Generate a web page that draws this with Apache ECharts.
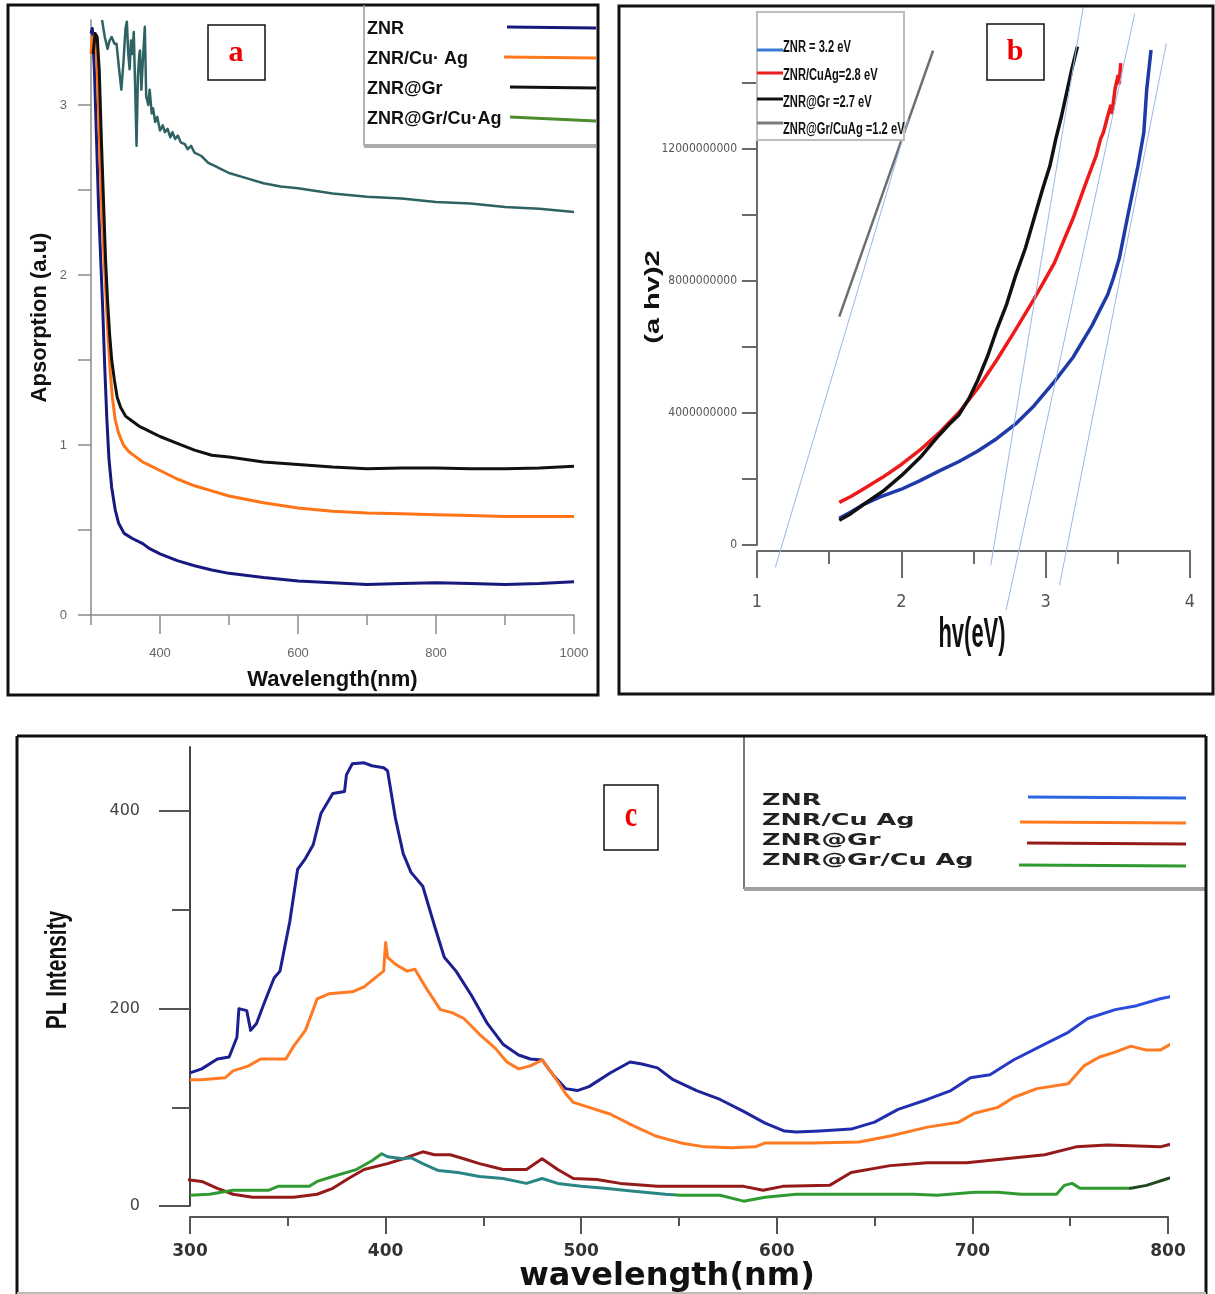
<!DOCTYPE html>
<html>
<head>
<meta charset="utf-8">
<title>ZNR absorption, Tauc plot and PL spectra</title>
<script src="https://cdn.jsdelivr.net/npm/echarts@6/dist/echarts.min.js"></script>
<style>
  html, body { margin: 0; padding: 0; background: #fff; }
  #main { width: 1215px; height: 1294px; }
</style>
</head>
<body>
<div id="main"></div>
<script>
var chartDom = document.getElementById('main');
var myChart = echarts.init(chartDom);

// ---- panel a : absorption ----
var absNames = ['ZNR', 'ZNR/Cu\u00b7 Ag', 'ZNR@Gr', 'ZNR@Gr/Cu\u00b7Ag'];
var absZnr = [[300,3.42],[302,3.45],[305,3.2],[308,2.8],[311,2.4],[314,2.1],[317,1.8],[320,1.45],[323,1.15],[326,0.92],[330,0.75],[335,0.62],[340,0.54],[348,0.48],[360,0.45],[375,0.42],[385,0.39],[400,0.36],[425,0.32],[450,0.29],[475,0.265],[500,0.245],[550,0.22],[600,0.2],[650,0.19],[700,0.18],[750,0.185],[800,0.19],[850,0.185],[900,0.18],[950,0.185],[1000,0.195]];
var absZnrCuAg = [[300,3.3],[302,3.4],[304,3.35],[306,3.42],[308,3.3],[310,3.1],[313,2.7],[316,2.35],[319,2.1],[322,1.85],[325,1.62],[328,1.42],[331,1.28],[335,1.15],[340,1.07],[347,1.0],[355,0.96],[365,0.93],[375,0.9],[385,0.88],[400,0.85],[425,0.8],[450,0.76],[475,0.73],[500,0.7],[550,0.66],[600,0.63],[650,0.61],[700,0.6],[750,0.595],[800,0.59],[850,0.585],[900,0.58],[950,0.58],[1000,0.58]];
var absZnrGr = [[303,3.3],[306,3.42],[309,3.4],[312,3.2],[315,2.8],[318,2.45],[321,2.1],[324,1.85],[327,1.65],[330,1.5],[334,1.38],[338,1.28],[343,1.22],[350,1.17],[360,1.14],[370,1.11],[380,1.09],[390,1.07],[400,1.05],[425,1.01],[450,0.97],[475,0.94],[500,0.93],[550,0.9],[600,0.885],[650,0.87],[700,0.86],[750,0.865],[800,0.865],[850,0.86],[900,0.86],[950,0.865],[1000,0.875]];
var absZnrGrCuAg = [[316,3.5],[320,3.4],[324,3.33],[327,3.38],[330,3.4],[334,3.36],[337,3.36],[341,3.2],[344,3.09],[347,3.25],[350,3.45],[352,3.49],[354,3.3],[356,3.21],[358,3.38],[360,3.3],[362,3.43],[364,3.1],[366,2.76],[368,3.17],[370,3.3],[371,3.32],[373,3.09],[375,3.25],[378,3.46],[380,3.05],[383,3.0],[385,3.09],[388,2.95],[390,2.98],[393,2.9],[396,2.93],[400,2.85],[404,2.88],[407,2.84],[411,2.86],[415,2.81],[418,2.84],[422,2.8],[426,2.82],[430,2.78],[436,2.77],[440,2.74],[445,2.76],[450,2.72],[460,2.7],[470,2.66],[480,2.64],[490,2.62],[500,2.6],[525,2.57],[550,2.54],[575,2.52],[600,2.51],[650,2.48],[700,2.46],[750,2.45],[800,2.43],[850,2.42],[900,2.4],[950,2.39],[1000,2.37]];
var absXTicks = [300,400,500,600,700,800,900,1000];
var absXLabels = [400,600,800,1000];
var absYTicks = [0,0.5,1,1.5,2,2.5,3];
var absYLabels = [0,1,2,3];

// ---- panel b : Tauc plot ----
var tauNames = ['ZNR = 3.2 eV', 'ZNR/CuAg=2.8 eV', 'ZNR@Gr =2.7 eV', 'ZNR@Gr/CuAg =1.2 eV'];
var tauZnr = [[1.57,0.81e9],[1.65,1.0e9],[1.735,1.22e9],[1.85,1.45e9],[2.0,1.69e9],[2.13,1.95e9],[2.26,2.24e9],[2.4,2.53e9],[2.53,2.85e9],[2.66,3.22e9],[2.79,3.66e9],[2.92,4.22e9],[3.06,4.95e9],[3.19,5.69e9],[3.32,6.64e9],[3.43,7.59e9],[3.47,8.1e9],[3.51,8.68e9],[3.57,10.0e9],[3.64,11.5e9],[3.68,12.5e9],[3.7,13.8e9],[3.73,15.0e9]];
var tauZnrCuAg = [[1.57,1.29e9],[1.65,1.47e9],[1.735,1.69e9],[1.87,2.05e9],[2.0,2.44e9],[2.13,2.88e9],[2.26,3.39e9],[2.4,4.02e9],[2.53,4.75e9],[2.66,5.6e9],[2.79,6.51e9],[2.92,7.46e9],[3.06,8.54e9],[3.19,9.9e9],[3.29,11.1e9],[3.35,11.8e9],[3.38,12.3e9],[3.4,12.5e9],[3.43,13.0e9],[3.45,13.3e9],[3.46,13.1e9],[3.48,13.8e9],[3.5,14.2e9],[3.51,14.0e9],[3.52,14.6e9]];
var tauZnrGr = [[1.57,0.75e9],[1.65,0.95e9],[1.735,1.22e9],[1.87,1.62e9],[2.0,2.1e9],[2.13,2.65e9],[2.26,3.32e9],[2.33,3.65e9],[2.4,3.95e9],[2.47,4.45e9],[2.53,5.0e9],[2.6,5.75e9],[2.66,6.51e9],[2.73,7.3e9],[2.79,8.14e9],[2.86,9.0e9],[2.92,9.9e9],[2.98,10.8e9],[3.03,11.5e9],[3.07,12.3e9],[3.11,13.0e9],[3.15,13.8e9],[3.18,14.4e9],[3.22,15.1e9]];
var tauZnrGrCuAg = [[1.57,6.92e9],[2.22,14.98e9]];
var fitZnr = [[3.096,-1.22e9],[3.836,15.2e9]];
var fitZnrCuAg = [[2.726,-1.97e9],[3.617,16.1e9]];
var fitZnrGr = [[2.62,-0.61e9],[3.26,16.3e9]];
var fitZnrGrCuAg = [[1.127,-0.68e9],[2.05,12.9e9]];
var tauXTicks = [1,2,3,4];
var tauXMinor = [1.5,2.5,3.5];
var tauYTicks = [0,2e9,4e9,6e9,8e9,10e9,12e9,14e9];
var tauYLabels = [0,4e9,8e9,12e9];

// ---- panel c : PL ----
var plNames = ['ZNR', 'ZNR/Cu Ag', 'ZNR@Gr', 'ZNR@Gr/Cu Ag'];
var plZnr = [[300,135],[306,139],[314,149],[320,151],[324,171],[325,200],[329,198],[331,178],[334,185],[338,206],[343,231],[346,238],[351,288],[355,341],[359,352],[363,366],[367,398],[373,418],[379,420],[380,437],[383,448],[389,449],[393,446],[399,444],[401,441],[405,393],[409,357],[413,338],[419,324],[425,284],[430,252],[436,238],[444,213],[452,185],[460,164],[468,153],[474,149],[480,148],[486,132],[492,119],[498,117],[504,121],[515,135],[525,146],[531,144],[539,140],[547,128],[559,117],[571,108],[583,96],[594,84],[604,76],[610,75],[622,76],[638,78],[650,85],[662,98],[677,108],[689,117],[699,130],[709,133],[721,148],[737,164],[749,176],[759,190],[773,199],[784,203],[796,210],[808,215],[818,220]];
var plZnrCuAg = [[300,128],[306,128],[318,130],[322,137],[330,142],[336,149],[349,149],[353,162],[359,178],[363,199],[365,210],[371,215],[383,217],[389,222],[397,235],[399,238],[400,267],[401,252],[405,245],[411,238],[415,240],[421,220],[428,199],[434,196],[440,190],[448,174],[456,160],[462,146],[468,139],[474,142],[480,148],[486,132],[492,114],[496,105],[504,100],[515,93],[526,82],[538,71],[551,64],[563,60],[577,59],[589,60],[594,64],[618,64],[642,65],[658,71],[677,80],[693,85],[701,94],[713,100],[721,110],[733,119],[749,124],[757,142],[765,151],[773,156],[781,162],[789,158],[796,158],[804,167],[812,173],[818,173]];
var plZnrGr = [[294,28],[306,25],[314,18],[322,12],[332,9],[353,9],[365,12],[373,18],[381,28],[389,37],[401,43],[409,48],[419,55],[425,52],[433,52],[440,48],[448,43],[460,37],[472,37],[480,48],[488,37],[496,28],[508,27],[520,23],[539,20],[559,20],[583,20],[593,16],[603,20],[627,21],[638,34],[658,41],[677,44],[697,44],[717,48],[737,52],[753,60],[769,62],[796,60],[804,64],[816,66]];
var plZnrGrCuAg = [[300,11],[310,12],[322,16],[340,16],[345,20],[361,20],[365,25],[373,30],[385,37],[393,46],[398,53],[401,50],[409,48],[413,49],[419,43],[427,36],[437,34],[448,30],[460,28],[472,23],[480,28],[488,23],[500,20],[512,18],[527,15],[543,12],[551,11],[571,11],[583,5],[594,9],[610,12],[638,12],[670,12],[682,11],[701,14],[713,14],[725,12],[743,12],[747,21],[751,23],[755,18],[765,18],[781,18],[789,21],[800,28],[808,31],[818,31]];
var plXTicks = [300,400,500,600,700,800];
var plXMinor = [350,450,550,650,750];
var plYTicks = [0,200,400];
var plYMinor = [100,300];

var NARROW = "'Liberation Sans Narrow', 'DejaVu Sans Condensed', 'Liberation Sans', sans-serif";

function lineSeries(name, data, xi, yi, color, width) {
    var s = {
        name: name, type: 'line', data: data, xAxisIndex: xi, yAxisIndex: yi,
        showSymbol: false, symbol: 'none', clip: false, silent: true,
        lineStyle: { width: width, join: 'round' }
    };
    // colour left out when a visualMap paints the line
    if (color) s.lineStyle.color = color;
    return s;
}

function plainAxis(grid, min, max, position, extra) {
    var ax = {
        type: 'value', gridIndex: grid, min: min, max: max, position: position,
        splitLine: { show: false },
        axisLine: { onZero: false }
    };
    return Object.assign(ax, extra);
}

var series = [
    lineSeries(absNames[0], absZnr, 0, 0, '#17197c', 3),
    lineSeries(absNames[1], absZnrCuAg, 0, 0, '#ff7417', 3),
    lineSeries(absNames[2], absZnrGr, 0, 0, '#111111', 3),
    lineSeries(absNames[3], absZnrGrCuAg, 0, 0, '#2f6262', 2.5),

    lineSeries(tauNames[0], tauZnr, 2, 1, '#1d3aa8', 3.5),
    lineSeries(tauNames[1], tauZnrCuAg, 2, 1, '#ee1a1a', 3.5),
    lineSeries(tauNames[2], tauZnrGr, 2, 1, '#111111', 3.5),
    lineSeries(tauNames[3], tauZnrGrCuAg, 2, 1, '#6e6e6e', 2.5),
    lineSeries('fit 3.2', fitZnr, 2, 1, '#9ab7e6', 1),
    lineSeries('fit 2.8', fitZnrCuAg, 2, 1, '#9ab7e6', 1),
    lineSeries('fit 2.7', fitZnrGr, 2, 1, '#9ab7e6', 1),
    lineSeries('fit 1.2', fitZnrGrCuAg, 2, 1, '#9ab7e6', 1),

    lineSeries(plNames[0], plZnr, 4, 2, null, 3),
    lineSeries(plNames[1], plZnrCuAg, 4, 2, '#ff7a22', 3),
    lineSeries(plNames[2], plZnrGr, 4, 2, '#951b1b', 3),
    lineSeries(plNames[3], plZnrGrCuAg, 4, 2, null, 3)
];

// legends, frames and panel letters
var graphic = [];
function txt(x, y, s, font, fill, extra, align) {
    graphic.push(Object.assign({
        type: 'text', x: x, y: y, z: 60,
        style: { text: s, font: font, fill: fill, align: align || 'left', verticalAlign: 'middle' }
    }, extra || {}));
}
function seg(x1, y1, x2, y2, color, w) {
    graphic.push({ type: 'line', z: 60, shape: { x1: x1, y1: y1, x2: x2, y2: y2 }, style: { stroke: color, lineWidth: w } });
}
function box(x, y, w, h, stroke, lw, fill, z) {
    graphic.push({ type: 'rect', z: z || 55, shape: { x: x, y: y, width: w, height: h },
        style: { stroke: stroke, lineWidth: lw, fill: fill || 'transparent' } });
}

// panel a legend
seg(364, 5, 364, 146, '#9a9a9a', 1.5);
seg(364, 146, 596, 146, '#ababab', 4);
var absLegY = [29, 59, 89, 119];
var absLegX = [507, 504, 510, 510];
var absLegCol = ['#16197a', '#ff7a1c', '#111111', '#4c8c2c'];
absNames.forEach(function (n, i) {
    txt(367, absLegY[i], n, "bold 18px 'Liberation Sans', Arial, sans-serif", '#111');
    seg(absLegX[i], absLegY[i] - 2, 596, absLegY[i] - 1 + (i === 3 ? 3 : 0), absLegCol[i], 3);
});

// panel b legend
box(757, 12, 147, 128, '#bdbdbd', 2, '#fff', 50);
var tauLegY = [47, 75, 102, 129];
var tauLegLineY = [50, 73, 99, 123];
var tauLegCol = ['#3b7ad6', '#ee1c1c', '#111111', '#7a7a7a'];
tauNames.forEach(function (n, i) {
    seg(757, tauLegLineY[i], 783, tauLegLineY[i], tauLegCol[i], 3);
    txt(783, tauLegY[i], n, "bold 12px 'Liberation Sans', Arial, sans-serif", '#111', { scaleX: 0.93, scaleY: 1.45 });
});

// panel c legend
seg(744, 736, 744, 889, '#7a7a7a', 2);
seg(744, 889, 1205, 889, '#a0a0a0', 4);
var plLegY = [801, 821, 841, 861];
var plLegLineY = [797, 822, 843, 865];
var plLegX = [1028, 1020, 1027, 1019];
var plLegCol = ['#2a66e0', '#ff7a22', '#951b1b', '#2f9a2f'];
plNames.forEach(function (n, i) {
    txt(762, plLegY[i], n, "bold 15px 'DejaVu Sans', sans-serif", '#222', { scaleX: 1.7 });
    seg(plLegX[i], plLegLineY[i], 1186, plLegLineY[i] + 1, plLegCol[i], 3);
});

// axis titles drawn squeezed / stretched like the figure
txt(972, 635, 'hv(eV)', "bold 22px 'Liberation Sans', Arial, sans-serif", '#111', { scaleY: 1.9 }, 'center');
txt(653, 297, '(a hv)2', "bold 20px 'Liberation Sans', Arial, sans-serif", '#111', { rotation: Math.PI / 2, scaleX: 1.45 }, 'center');
txt(58, 970, 'PL Intensity', "bold 22px 'Liberation Sans', Arial, sans-serif", '#111', { rotation: Math.PI / 2, scaleX: 0.95, scaleY: 1.3 }, 'center');

// panel letters
box(208, 25, 57, 55, '#111', 1.5, '#fff', 56);
txt(236, 53, 'a', "bold 30px 'Liberation Serif', serif", '#ee0000', { z: 61 }, 'center');
box(987, 24, 57, 56, '#111', 1.5, '#fff', 56);
txt(1015, 52, 'b', "bold 30px 'Liberation Serif', serif", '#ee0000', { z: 61 }, 'center');
box(604, 785, 54, 65, '#111', 1.5, '#fff', 56);
txt(631, 817, 'c', "bold 28px 'Liberation Serif', serif", '#ee0000', { z: 61, scaleY: 1.3 }, 'center');

// panel frames
box(8, 5, 590, 690, '#111', 3);
box(619, 6, 594, 688, '#111', 3);
seg(17, 1294, 17, 736, '#111', 3);
seg(17, 736, 1206, 736, '#111', 3);
seg(1206, 736, 1206, 1294, '#111', 3);
seg(17, 1293, 1206, 1293, '#bbbbbb', 2);

var option = {
    animation: false,
    backgroundColor: '#fff',
    textStyle: { fontFamily: "'Liberation Sans', Arial, sans-serif" },
    grid: [
        { left: 91, top: 20, width: 483, height: 595 },
        { left: 757, top: 50, width: 433, height: 495 },
        { left: 190, top: 747, width: 978, height: 471 }
    ],
    xAxis: [
        plainAxis(0, 300, 1000, 'bottom', {
            axisLine: { onZero: false, lineStyle: { color: '#8a8a8a', width: 1.5 } },
            axisTick: { customValues: absXTicks, length: 10, lineStyle: { color: '#8a8a8a', width: 1.5 } },
            axisLabel: { customValues: absXLabels, color: '#666', fontSize: 13, margin: 32,
                formatter: function (v) { return String(v); } },
            name: 'Wavelength(nm)', nameLocation: 'middle', nameGap: 54,
            nameTextStyle: { fontWeight: 'bold', fontSize: 22, color: '#111' }
        }),
        plainAxis(0, 300, 1000, 'bottom', {
            axisLine: { show: false, onZero: false },
            axisTick: { customValues: absXLabels, length: 19, lineStyle: { color: '#8a8a8a', width: 1.5 } },
            axisLabel: { show: false }
        }),
        plainAxis(1, 1, 4, 'bottom', {
            offset: 6,
            axisLine: { onZero: false, lineStyle: { color: '#6a6a6a', width: 2 } },
            axisTick: { customValues: tauXTicks, length: 27, lineStyle: { color: '#6a6a6a', width: 2 } },
            axisLabel: { customValues: tauXTicks, color: '#555', fontSize: 18, fontFamily: NARROW, margin: 42 }
        }),
        plainAxis(1, 1, 4, 'bottom', {
            offset: 6,
            axisLine: { show: false, onZero: false },
            axisTick: { customValues: tauXMinor, length: 13, lineStyle: { color: '#6a6a6a', width: 2 } },
            axisLabel: { show: false }
        }),
        plainAxis(2, 300, 800, 'bottom', {
            offset: 11,
            axisLine: { onZero: false, lineStyle: { color: '#555', width: 2 } },
            axisTick: { customValues: plXTicks, length: 17, lineStyle: { color: '#555', width: 2 } },
            axisLabel: { customValues: plXTicks, color: '#333', fontSize: 17, fontWeight: 'bold', fontFamily: "'DejaVu Sans', sans-serif", margin: 26 },
            name: 'wavelength(nm)', nameLocation: 'middle', nameGap: 34,
            nameTextStyle: { fontWeight: 'bold', fontSize: 32, color: '#111', fontFamily: "'DejaVu Sans', sans-serif",
                padding: [0, 24, 0, 0] }
        }),
        plainAxis(2, 300, 800, 'bottom', {
            offset: 11,
            axisLine: { show: false, onZero: false },
            axisTick: { customValues: plXMinor, length: 9, lineStyle: { color: '#555', width: 2 } },
            axisLabel: { show: false }
        })
    ],
    yAxis: [
        plainAxis(0, 0, 3.5, 'left', {
            axisLine: { onZero: false, lineStyle: { color: '#8a8a8a', width: 1.5 } },
            axisTick: { customValues: absYTicks, length: 13, lineStyle: { color: '#8a8a8a', width: 1.5 } },
            axisLabel: { customValues: absYLabels, color: '#666', fontSize: 13, margin: 24 },
            name: 'Apsorption (a.u)', nameLocation: 'middle', nameGap: 40,
            nameTextStyle: { fontWeight: 'bold', fontSize: 22, color: '#111' }
        }),
        plainAxis(1, 0, 15e9, 'left', {
            axisLine: { onZero: false, lineStyle: { color: '#6a6a6a', width: 2 } },
            axisTick: { customValues: tauYTicks, length: 15, lineStyle: { color: '#6a6a6a', width: 2 } },
            axisLabel: { customValues: tauYLabels, color: '#555', fontSize: 12, fontFamily: NARROW, margin: 20,
                formatter: function (v) { return String(v); } }
        }),
        plainAxis(2, 0, 465, 'left', {
            axisLine: { onZero: false, lineStyle: { color: '#444', width: 2 } },
            axisTick: { customValues: plYTicks, length: 31, lineStyle: { color: '#555', width: 2 } },
            axisLabel: { customValues: plYTicks, color: '#444', fontSize: 16, fontFamily: "'DejaVu Sans', sans-serif", margin: 50 }
        }),
        plainAxis(2, 0, 465, 'left', {
            axisLine: { show: false, onZero: false },
            axisTick: { customValues: plYMinor, length: 18, lineStyle: { color: '#555', width: 2 } },
            axisLabel: { show: false }
        })
    ],
    visualMap: [
        { type: 'continuous', show: false, dimension: 0, seriesIndex: 12, min: 300, max: 820,
          inRange: { color: ['#1b1f8f', '#1b1f8f', '#1d2399', '#2332b8', '#2f57ef'] } },
        { type: 'piecewise', show: false, dimension: 0, seriesIndex: 15,
          pieces: [
              { lt: 398, color: '#2f9a2f' },
              { gte: 398, lt: 548, color: '#2a8585' },
              { gte: 548, lt: 780, color: '#2f9a2f' },
              { gte: 780, color: '#1f4a1f' }
          ] }
    ],
    graphic: graphic,
    series: series
};

option && myChart.setOption(option);
</script>
</body>
</html>
